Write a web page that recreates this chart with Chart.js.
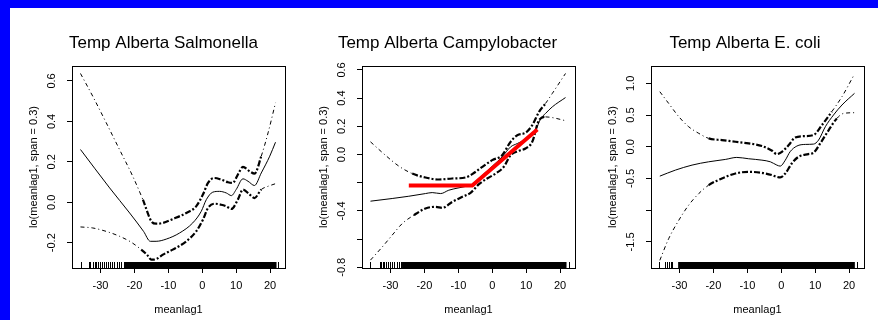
<!DOCTYPE html>
<html lang="en">
<head>
<meta charset="utf-8">
<title>Temp Alberta - lo(meanlag1)</title>
<script src="https://cdn.jsdelivr.net/npm/chart.js@4.4.1/dist/chart.umd.min.js"></script>
<style>
  html, body { margin: 0; padding: 0; background: #fff; overflow: hidden; }
  #sheet { position: relative; width: 878px; height: 320px; overflow: hidden; background: #fff; }
  #sheet canvas { position: absolute; top: 8px; }
  #sheet .edge-top { position: absolute; left: 0; top: 0; width: 878px; height: 8px; background: #0000ff; }
  #sheet .edge-left { position: absolute; left: 0; top: 0; width: 10px; height: 320px; background: #0000ff; }
</style>
</head>
<body>
<div id="sheet">
  <canvas id="salmonella" width="281" height="312" style="left:10px"></canvas>
  <canvas id="campylobacter" width="281" height="312" style="left:300px"></canvas>
  <canvas id="ecoli" width="281" height="312" style="left:589px"></canvas>
  <div class="edge-top"></div>
  <div class="edge-left"></div>
</div>

<script>
// shared x axis (meanlag1, deg C)
const xTicks = [-30, -20, -10, 0, 10, 20];
const xRange = [-38.4, 24.4];

// --- Salmonella: loess fit and +/- 2 se bands, [meanlag1, effect]
const salmFit = [[-35.9, 0.261], [-27.3, 0.071], [-21.4, -0.053], [-17.3, -0.144], [-15.3, -0.193],
  [-13.6, -0.193], [-10.6, -0.182], [-6.7, -0.152], [-2.8, -0.102], [-0.3, -0.045], [1.2, 0.013],
  [3.1, 0.050], [5.1, 0.054], [7.1, 0.046], [8.6, 0.033], [10.0, 0.063], [12.0, 0.116], [13.5, 0.104],
  [15.4, 0.083], [17.4, 0.145], [19.9, 0.228], [21.6, 0.297]];
const salmUpper = [[-35.9, 0.637], [-32.3, 0.525], [-28.3, 0.393], [-24.4, 0.261], [-20.5, 0.129],
  [-17.5, 0.013], [-15.0, -0.094], [-13.6, -0.106], [-11.6, -0.102], [-8.7, -0.083], [-4.7, -0.053],
  [-1.8, -0.020], [0.2, 0.038], [1.7, 0.096], [3.6, 0.120], [5.6, 0.112], [7.6, 0.099], [9.0, 0.096],
  [10.5, 0.137], [12.0, 0.175], [14.0, 0.153], [15.4, 0.142], [17.4, 0.228], [19.4, 0.343], [21.6, 0.492]];
const salmLower = [[-35.9, -0.122], [-32.3, -0.127], [-28.3, -0.144], [-24.4, -0.168], [-20.9, -0.198],
  [-18.0, -0.234], [-16.3, -0.259], [-15.0, -0.284], [-13.6, -0.281], [-11.6, -0.259], [-8.7, -0.234],
  [-4.7, -0.193], [-1.8, -0.144], [0.2, -0.086], [1.7, -0.028], [3.6, -0.007], [5.6, -0.012], [7.1, -0.020],
  [8.6, -0.033], [10.5, 0.013], [12.0, 0.063], [14.0, 0.038], [15.4, 0.021], [17.4, 0.063], [19.4, 0.079],
  [21.6, 0.092]];
const salmYTicks = [-0.2, 0.0, 0.2, 0.4, 0.6];
const salmYLabels = ['-0.2', '0.0', '0.2', '0.4', '0.6'];
const salmYRange = [-0.325, 0.674];
const salmRugTicks = [-35.6, -33.5, -33.0, -32.3, -31.6, -31.2, -30.7, -30.0, -29.6, -29.1, -28.3, -27.9,
  -27.2, -26.6, -25.9, -25.1, -24.6, -23.9, -23.2, 22.4];
const salmRugSpans = [[-22.8, 21.9]];

// --- Campylobacter
const campFit = [[-35.9, -0.331], [-29.5, -0.312], [-24.6, -0.296], [-19.7, -0.277], [-17.7, -0.270],
  [-15.2, -0.277], [-12.8, -0.253], [-9.8, -0.236], [-6.4, -0.217], [-5.4, -0.206], [-2.9, -0.147],
  [0.0, -0.083], [2.9, -0.017], [5.4, 0.054], [7.4, 0.078], [9.3, 0.102], [11.3, 0.137], [12.8, 0.173],
  [14.3, 0.255], [15.7, 0.291], [17.7, 0.338], [21.6, 0.404]];
const campUpper = [[-35.9, 0.090], [-31.5, -0.005], [-27.5, -0.083], [-23.6, -0.135], [-19.7, -0.163],
  [-15.7, -0.177], [-11.8, -0.170], [-7.9, -0.163], [-5.9, -0.139], [-2.9, -0.087], [0.0, -0.040],
  [2.9, -0.005], [5.4, 0.090], [7.4, 0.137], [9.8, 0.154], [11.8, 0.208], [13.8, 0.303], [15.7, 0.362],
  [17.7, 0.433], [21.6, 0.575]];
const campLower = [[-35.9, -0.749], [-32.4, -0.655], [-29.5, -0.572], [-26.5, -0.489], [-23.1, -0.430],
  [-19.7, -0.383], [-16.7, -0.371], [-14.7, -0.378], [-11.8, -0.336], [-8.8, -0.300], [-6.4, -0.272],
  [-3.9, -0.210], [-1.5, -0.170], [1.0, -0.135], [3.4, -0.087], [5.4, -0.005], [7.9, 0.026], [9.8, 0.043],
  [11.8, 0.090], [13.8, 0.244], [15.7, 0.267], [17.7, 0.262], [21.6, 0.240]];
// piecewise threshold fit drawn in red
const campBreakX = [-24.6, -5.9, 13.3];
const campBreakY = [-0.22, -0.22, 0.177];
const campYTicks = [-0.8, -0.6, -0.4, -0.2, 0.0, 0.2, 0.4, 0.6];
const campYLabels = ['-0.8', '', '-0.4', '', '0.0', '0.2', '0.4', '0.6'];
const campYRange = [-0.805, 0.628];
const campRugTicks = [-36.1, -33.2, -32.9, -32.2, -31.8, -31.3, -30.6, -30.1, -29.5, -28.9, -28.2, -27.6,
  -27.0, 22.5];
const campRugSpans = [[-26.6, 21.9]];

// --- E. coli
const ecoliFit = [[-35.8, -0.463], [-31.2, -0.368], [-26.3, -0.289], [-21.4, -0.237], [-16.5, -0.200],
  [-13.1, -0.168], [-9.6, -0.189], [-5.7, -0.211], [-3.2, -0.237], [-1.3, -0.289], [-0.3, -0.305],
  [1.2, -0.211], [2.6, -0.079], [4.6, 0.011], [7.1, 0.037], [9.5, 0.042], [11.0, 0.105], [13.0, 0.316],
  [15.4, 0.500], [17.9, 0.658], [21.6, 0.842]];
const ecoliUpper = [[-35.8, 0.868], [-33.2, 0.684], [-30.2, 0.474], [-27.3, 0.316], [-24.3, 0.211],
  [-21.4, 0.132], [-17.5, 0.105], [-13.5, 0.079], [-9.6, 0.053], [-5.7, 0.011], [-2.7, -0.063],
  [-1.3, -0.116], [0.2, -0.079], [2.2, 0.026], [4.1, 0.147], [7.1, 0.168], [9.5, 0.184], [12.0, 0.342],
  [14.9, 0.553], [17.9, 0.789], [21.6, 1.146]];
const ecoliLower = [[-35.8, -1.790], [-33.2, -1.450], [-30.2, -1.158], [-27.3, -0.921], [-24.3, -0.737],
  [-21.4, -0.605], [-17.5, -0.500], [-13.5, -0.421], [-9.6, -0.395], [-5.7, -0.411], [-2.7, -0.447],
  [-1.3, -0.474], [-0.3, -0.484], [1.2, -0.421], [3.1, -0.263], [5.1, -0.158], [8.0, -0.116], [9.5, -0.095],
  [11.5, 0.053], [14.0, 0.263], [16.4, 0.447], [18.4, 0.526], [21.6, 0.537]];
const ecoliYTicks = [-1.5, -1.0, -0.5, 0.0, 0.5, 1.0];
const ecoliYLabels = ['-1.5', '', '-0.5', '0.0', '0.5', '1.0'];
const ecoliYRange = [-1.911, 1.273];
const ecoliRugTicks = [-36.0, -34.2, -33.8, -33.1, -32.6, -32.2, 22.3];
const ecoliRugSpans = [[-30.4, 21.7]];

Chart.defaults.font.family = '"Liberation Sans", Arial, Helvetica, sans-serif';
Chart.defaults.color = '#000';
Chart.defaults.animation = false;

const toPoints = arr => arr.map(([x, y]) => ({x, y}));

// rug of observed meanlag1 values along the bottom, then the frame around the plot
const rugAndBox = {
  id: 'rugAndBox',
  afterDatasetsDraw(chart, args, opts) {
    const {ctx, chartArea: a, scales: {x}} = chart;
    const len = 6;
    ctx.save();
    ctx.fillStyle = '#000';
    ctx.strokeStyle = '#000';
    ctx.lineWidth = 1;
    opts.spans.forEach(([from, to]) => {
      const x0 = x.getPixelForValue(from);
      const x1 = x.getPixelForValue(to);
      ctx.fillRect(x0, a.bottom - len, x1 - x0, len);
    });
    ctx.beginPath();
    opts.ticks.forEach(v => {
      const px = Math.round(x.getPixelForValue(v)) + 0.5;
      ctx.moveTo(px, a.bottom);
      ctx.lineTo(px, a.bottom - len);
    });
    ctx.stroke();
    ctx.strokeRect(Math.round(a.left) + 0.5, Math.round(a.top) + 0.5,
      Math.round(a.width), Math.round(a.height));
    ctx.restore();
  }
};

// main title, placed by its own centre rather than over the plot box
const panelTitle = {
  id: 'panelTitle',
  afterDraw(chart, args, opts) {
    const {ctx} = chart;
    ctx.save();
    ctx.font = '17px "Liberation Sans", Arial, Helvetica, sans-serif';
    ctx.fillStyle = '#000';
    ctx.textAlign = 'center';
    ctx.textBaseline = 'middle';
    ctx.fillText(opts.text, opts.x, opts.y);
    ctx.restore();
  }
};

const thinDash = [4, 3, 1, 3];
const thickDash = [6, 2, 2, 2];

function seBand(data, thick) {
  const isThick = c => c.p0.parsed.x >= thick[0] && c.p1.parsed.x <= thick[1];
  return {
    data: toPoints(data),
    borderColor: '#000',
    borderWidth: 1,
    borderDash: thinDash,
    cubicInterpolationMode: 'monotone',
    pointRadius: 0,
    order: 2,
    segment: {
      borderWidth: c => isThick(c) ? 2.2 : 1,
      borderDash: c => isThick(c) ? thickDash : thinDash
    }
  };
}

function drawPanel(canvasId, p) {
  const datasets = [
    {
      data: toPoints(p.fit),
      borderColor: '#000',
      borderWidth: 1,
      cubicInterpolationMode: 'monotone',
      pointRadius: 0,
      order: 1
    },
    seBand(p.upper, p.thick),
    seBand(p.lower, p.thick)
  ];
  if (p.extra) datasets.push(p.extra);

  const tickGrid = { drawOnChartArea: false, drawTicks: true, tickLength: 5, color: '#000', lineWidth: 1 };

  new Chart(document.getElementById(canvasId), {
    type: 'line',
    data: { datasets: datasets },
    plugins: [rugAndBox, panelTitle],
    options: {
      responsive: false,
      layout: { padding: { top: 58, left: 10, right: 6, bottom: 0 } },
      scales: {
        x: {
          type: 'linear',
          min: xRange[0],
          max: xRange[1],
          afterBuildTicks: s => { s.ticks = xTicks.map(v => ({value: v})); },
          afterFit: s => { s.height = 52; },
          grid: tickGrid,
          border: { display: false },
          ticks: { autoSkip: false, maxRotation: 0, padding: 6, font: { size: 11 }, callback: v => String(v) },
          title: { display: true, text: 'meanlag1', font: { size: 11 }, padding: { top: 0, bottom: 3 } }
        },
        y: {
          type: 'linear',
          min: p.yRange[0],
          max: p.yRange[1],
          afterBuildTicks: s => { s.ticks = p.yTicks.map(v => ({value: v})); },
          afterFit: s => { s.width = 52; },
          grid: tickGrid,
          border: { display: false },
          ticks: {
            autoSkip: false, minRotation: 90, maxRotation: 90, crossAlign: 'center', padding: 6,
            font: { size: 11 }, callback: (v, i) => p.yLabels[i]
          },
          title: { display: true, text: 'lo(meanlag1, span = 0.3)', font: { size: 11 }, padding: { top: 7, bottom: 0 } }
        }
      },
      plugins: {
        legend: { display: false },
        tooltip: { enabled: false },
        rugAndBox: { ticks: p.rugTicks, spans: p.rugSpans },
        panelTitle: { text: p.title, x: p.titleX, y: 35 }
      }
    }
  });
}

drawPanel('salmonella', {
  title: 'Temp Alberta Salmonella', titleX: 153.5,
  fit: salmFit, upper: salmUpper, lower: salmLower, thick: [-19, 17.5],
  yTicks: salmYTicks, yLabels: salmYLabels, yRange: salmYRange,
  rugTicks: salmRugTicks, rugSpans: salmRugSpans
});

drawPanel('campylobacter', {
  title: 'Temp Alberta Campylobacter', titleX: 147.5,
  fit: campFit, upper: campUpper, lower: campLower, thick: [-26, 16.5],
  yTicks: campYTicks, yLabels: campYLabels, yRange: campYRange,
  rugTicks: campRugTicks, rugSpans: campRugSpans,
  extra: {
    data: campBreakX.map((x, i) => ({x: x, y: campBreakY[i]})),
    borderColor: '#ff0000',
    borderWidth: 4,
    pointRadius: 0,
    tension: 0,
    order: 0
  }
});

drawPanel('ecoli', {
  title: 'Temp Alberta E. coli', titleX: 156,
  fit: ecoliFit, upper: ecoliUpper, lower: ecoliLower, thick: [-24, 17],
  yTicks: ecoliYTicks, yLabels: ecoliYLabels, yRange: ecoliYRange,
  rugTicks: ecoliRugTicks, rugSpans: ecoliRugSpans
});
</script>
</body>
</html>
